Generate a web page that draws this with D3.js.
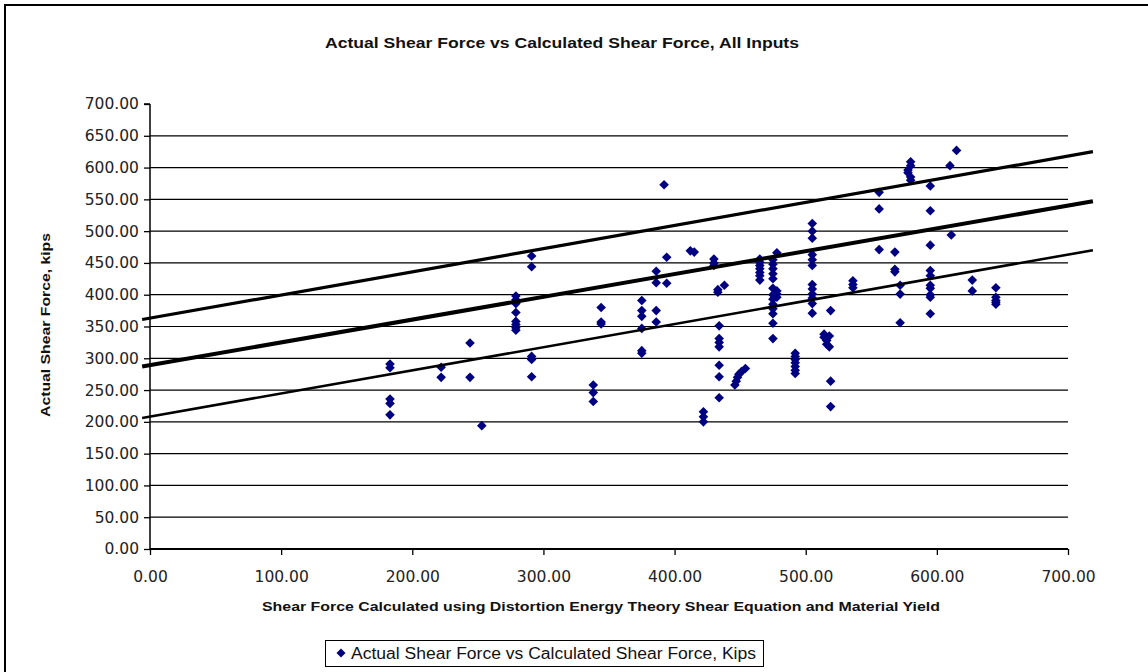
<!DOCTYPE html>
<html><head><meta charset="utf-8">
<script src="https://cdn.jsdelivr.net/npm/d3@7/dist/d3.min.js"></script>
<style>html,body{margin:0;padding:0;background:#fff;}svg{display:block;}</style>
</head><body>
<svg id="c" width="1148" height="672"></svg>
<script>
// ---- data ----
const chartTitle = "Actual Shear Force vs Calculated Shear Force, All Inputs";
const xTitle = "Shear Force Calculated using Distortion Energy Theory Shear Equation and Material Yield";
const yTitle = "Actual Shear Force, kips";
const legendLabel = "Actual Shear Force vs Calculated Shear Force, Kips";
const xTicks = [0, 100, 200, 300, 400, 500, 600, 700];
const yTicks = [0, 50, 100, 150, 200, 250, 300, 350, 400, 450, 500, 550, 600, 650, 700];

// calculated shear force (x) and actual shear force (y), kips
const calcX = [
  183,183,183,183,183, 222,222, 244,244, 253,
  279,279,279,279,279,279,279,279, 291,291,291,291,291,
  338,338,338, 344,344,344, 375,375,375,375,375,375,
  386,386,386,386, 392, 394,394, 412,415, 422,422,422,
  430,430,430, 433,433, 438, 434,434,434,434,434,434,434,
  446,447,448,449,451,454,
  465,465,465,465,465,465,465,
  475,475,475,475,475,475,475,475,475,475,475,475,475,
  478,478,478,478,
  492,492,492,492,492,492,492,
  505,505,505,505,505,505,505,505,505,505,505,505,
  514,514,516,516,518,518, 519,519,519,
  536,536,536, 556,556,556, 568,568,568, 572,572,572,
  578,578, 580,580,580,580,
  595,595,595,595,595,595,595,595,595,595,
  610, 611, 615, 627,627, 645,645,645,645,645
];
const actualY = [
  291,285,236,229,211, 286,270, 324,270, 194,
  398,392,386,372,358,353,348,344, 461,444,303,298,271,
  258,246,232, 380,357,354, 391,375,366,347,312,308,
  437,419,375,357, 573, 459,418, 469,467, 216,208,200,
  456,450,446, 408,404, 415, 351,331,325,318,289,271,238,
  258,264,270,275,279,284,
  456,451,446,441,435,430,423,
  455,448,441,433,425,410,400,393,385,378,370,355,331,
  466,406,401,396,
  308,303,298,293,287,281,276,
  512,500,489,463,455,446,416,409,401,395,386,371,
  338,333,328,322,335,318, 375,264,224,
  422,416,411, 561,535,471, 467,440,436, 415,401,356,
  596,592, 609,603,585,580,
  571,532,478,438,430,415,410,400,396,370,
  603, 494, 627, 423,406, 411,396,391,388,385
];

// reference lines drawn across the chart (x endpoints, y endpoints)
const lineX = [-6, 719];
const upperLineY = [361, 625];
const middleLineY = [287, 547];
const lowerLineY = [206, 470];

// ---- drawing ----
const svg = d3.select("#c");
const font = "'DejaVu Sans', Arial, sans-serif";
const titleFont = "'Liberation Sans', Arial, sans-serif";
const x = d3.scaleLinear().domain([0, 700]).range([150, 1068]);
const y = d3.scaleLinear().domain([0, 700]).range([549, 104]);

// outer frame
svg.append("rect").attr("x", 5).attr("y", 5).attr("width", 1160).attr("height", 700)
  .attr("fill", "none").attr("stroke", "#000").attr("stroke-width", 2);

// title
svg.append("text").attr("x", 562).attr("y", 48).attr("text-anchor", "middle")
  .attr("font-family", titleFont).attr("font-weight", "bold").attr("font-size", 15).attr("fill", "#111")
  .attr("textLength", 474).attr("lengthAdjust", "spacingAndGlyphs")
  .text(chartTitle);

// gridlines
svg.append("g").selectAll("line").data(yTicks.filter(v => v > 0 && v < 700)).join("line")
  .attr("x1", x(0)).attr("x2", x(700)).attr("y1", d => y(d)).attr("y2", d => y(d))
  .attr("stroke", "#000").attr("stroke-width", 1.2);

// y axis
const yAxis = d3.axisLeft(y).tickValues(yTicks).tickSize(6).tickFormat(d3.format(".2f"));
const gy = svg.append("g").attr("transform", `translate(${x(0)},0)`).call(yAxis);
gy.select(".domain").attr("stroke", "#000").attr("stroke-width", 1.5).attr("d", `M0,${y(700)}H-6M0,${y(700)}V${y(0)}`);
gy.selectAll(".tick line").attr("stroke", "#000").attr("stroke-width", 1.3);
gy.selectAll(".tick text").attr("font-family", font).attr("font-size", 15.5).attr("fill", "#222").attr("x", -11);

// x axis
const xAxis = d3.axisBottom(x).tickValues(xTicks).tickSize(6).tickFormat(d3.format(".2f"));
const gx = svg.append("g").attr("transform", `translate(0,${y(0)})`).call(xAxis);
gx.select(".domain").attr("stroke", "#000").attr("stroke-width", 2).attr("d", `M${x(0)},0H${x(700)}`);
gx.selectAll(".tick line").attr("stroke", "#000").attr("stroke-width", 1.3);
gx.selectAll(".tick text").attr("font-family", font).attr("font-size", 15.5).attr("fill", "#222").attr("y", 22);

// axis titles
svg.append("text").attr("x", 601).attr("y", 611).attr("text-anchor", "middle")
  .attr("font-family", titleFont).attr("font-weight", "bold").attr("font-size", 13.7).attr("fill", "#111")
  .attr("textLength", 678).attr("lengthAdjust", "spacingAndGlyphs")
  .text(xTitle);
svg.append("text").attr("transform", `translate(50,325) rotate(-90)`).attr("text-anchor", "middle")
  .attr("font-family", titleFont).attr("font-weight", "bold").attr("font-size", 13.7).attr("fill", "#111")
  .attr("textLength", 184).attr("lengthAdjust", "spacingAndGlyphs")
  .text(yTitle);

// points
const pts = calcX.map((v, i) => ({ x: v, y: actualY[i] }));
const diamond = "M0,-4.8L4.8,0L0,4.8L-4.8,0Z";
svg.append("g").selectAll("path").data(pts).join("path")
  .attr("d", diamond).attr("transform", d => `translate(${x(d.x)},${y(d.y)})`)
  .attr("fill", "#000080");

// reference lines
const lineGen = d3.line().x(d => x(d[0])).y(d => y(d[1]));
[[upperLineY, 3.2], [middleLineY, 4], [lowerLineY, 2.6]].forEach(([ly, w]) => {
  svg.append("path").attr("d", lineGen(lineX.map((v, i) => [v, ly[i]])))
    .attr("fill", "none").attr("stroke", "#000").attr("stroke-width", w);
});

// legend
svg.append("rect").attr("x", 325.5).attr("y", 640.5).attr("width", 438).attr("height", 26)
  .attr("fill", "#fff").attr("stroke", "#000").attr("stroke-width", 1);
svg.append("path").attr("d", "M0,-4.5L4.5,0L0,4.5L-4.5,0Z").attr("transform", "translate(341,653)").attr("fill", "#000080");
svg.append("text").attr("x", 351).attr("y", 659).attr("font-family", titleFont).attr("font-size", 16).attr("fill", "#111")
  .attr("textLength", 405).attr("lengthAdjust", "spacingAndGlyphs")
  .text(legendLabel);
</script>
</body></html>
